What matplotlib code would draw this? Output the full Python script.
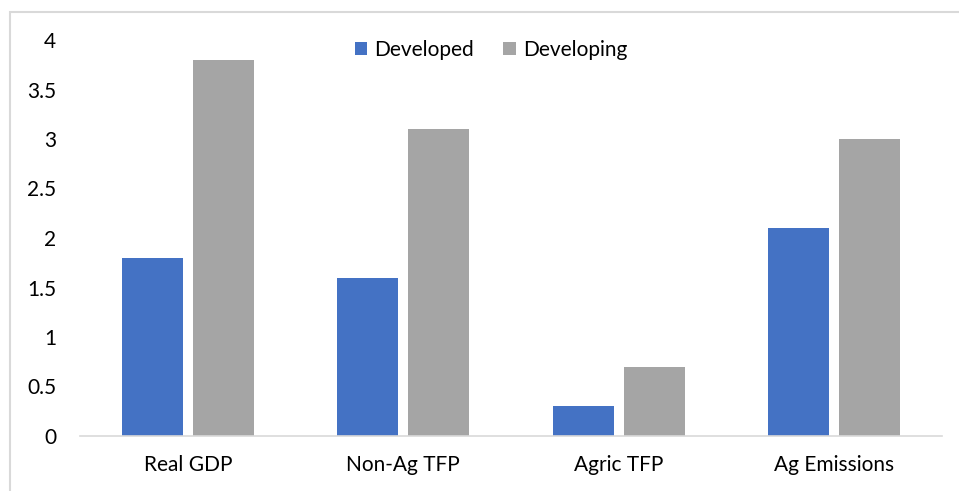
import matplotlib
matplotlib.use("Agg")
import matplotlib.pyplot as plt
import numpy as np
from matplotlib.patches import Rectangle

categories = ["Real GDP", "Non-Ag TFP", "Agric TFP", "Ag Emissions"]
developed = [1.8, 1.6, 0.3, 2.1]
developing = [3.8, 3.1, 0.7, 3.0]
yticks = [0, 0.5, 1, 1.5, 2, 2.5, 3, 3.5, 4]
ytick_labels = ["0", "0.5", "1", "1.5", "2", "2.5", "3", "3.5", "4"]

plt.rcParams['font.family'] = ['Lato', 'DejaVu Sans']

W, H = 959, 491
fig = plt.figure(figsize=(W / 100, H / 100), dpi=100)
ax = fig.add_axes([80 / W, 55 / H, 862 / W, 396 / H])

# outer chart border (right and bottom edges run off the image)
fig.patches.append(Rectangle((10 / W, -10 / H), 960 / W, 489 / H, transform=fig.transFigure,
                             fill=False, edgecolor="#D9D9D9", linewidth=1.5))

x = np.arange(len(categories))
w = 0.283
off = 0.165
ax.bar(x - off, developed, w, color="#4472C4", label="Developed")
ax.bar(x + off, developing, w, color="#A5A5A5", label="Developing")

ax.set_xlim(-0.5, 3.5)
ax.set_ylim(0, 4)
ax.set_yticks(yticks)
ax.set_yticklabels(ytick_labels)
ax.set_xticks(x)
ax.set_xticklabels(categories)
ax.tick_params(axis="both", length=0, labelsize=15, colors="#000000")
ax.tick_params(axis="y", pad=17)
ax.tick_params(axis="x", pad=14)

for s in ["top", "right", "left"]:
    ax.spines[s].set_visible(False)
ax.spines["bottom"].set_color("#D9D9D9")
ax.spines["bottom"].set_linewidth(1.2)

ax.legend(loc="center", bbox_to_anchor=(0.477, 0.975), ncol=2, frameon=False,
          fontsize=15, handlelength=0.6, handleheight=0.6, handletextpad=0.35,
          columnspacing=1.4)

fig.savefig("out.png", dpi=100)
